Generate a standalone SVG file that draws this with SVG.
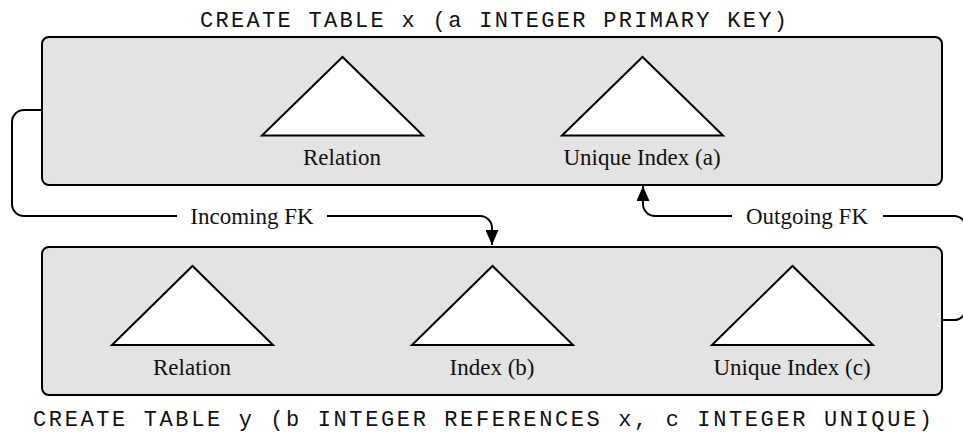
<svg xmlns="http://www.w3.org/2000/svg" width="963" height="433" viewBox="0 0 963 433">
  <style>
    .table { fill: #e3e3e3; stroke: #000; stroke-width: 2; }
    .tree { fill: #fff; stroke: #000; stroke-width: 2; stroke-linejoin: miter; }
    .label { font-family: "Liberation Serif", "Times New Roman", serif; font-size: 23px; fill: #111; text-anchor: middle; }
    .sql { font-family: "Liberation Mono", "Courier New", monospace; font-size: 22px; fill: #111; }
    .wire { fill: none; stroke: #000; stroke-width: 2; }
  </style>
  <defs>
    <marker id="arrow" viewBox="0 0 15 13" refX="15" refY="6.5" markerWidth="15" markerHeight="13" markerUnits="userSpaceOnUse" orient="auto">
      <path d="M0,0 L15,6.5 L0,13 z" fill="#000"/>
    </marker>
  </defs>

  <!-- table x -->
  <g id="table-x">
    <text class="sql" x="200" y="27" textLength="587" lengthAdjust="spacing">CREATE TABLE x (a INTEGER PRIMARY KEY)</text>
    <rect class="table" x="42" y="37" width="900" height="148" rx="7" ry="7"/>
  </g>
  <g id="x-relation">
    <polygon class="tree" points="262,135.5 342.5,57 423,135.5"/>
    <text class="label" x="342" y="165">Relation</text>
  </g>
  <g id="x-unique-index-a">
    <polygon class="tree" points="562,135.5 642.5,57 723,135.5"/>
    <text class="label" x="642" y="165">Unique Index (a)</text>
  </g>

  <!-- table y -->
  <g id="table-y">
    <rect class="table" x="42" y="247" width="900" height="148" rx="7" ry="7"/>
    <text class="sql" x="33" y="426" textLength="899" lengthAdjust="spacing">CREATE TABLE y (b INTEGER REFERENCES x, c INTEGER UNIQUE)</text>
  </g>
  <g id="y-relation">
    <polygon class="tree" points="112,345 192.5,266 273,345"/>
    <text class="label" x="192" y="375">Relation</text>
  </g>
  <g id="y-index-b">
    <polygon class="tree" points="412,345 492.5,266 573,345"/>
    <text class="label" x="492" y="375">Index (b)</text>
  </g>
  <g id="y-unique-index-c">
    <polygon class="tree" points="712,345 792.5,266 873,345"/>
    <text class="label" x="792" y="375">Unique Index (c)</text>
  </g>

  <!-- foreign key connectors -->
  <g id="connectors">
    <path class="wire" d="M42,110 H24 A12,12 0 0 0 12,122 V204 A12,12 0 0 0 24,216 H177"/>
    <path class="wire" d="M327,216 H480 A12,12 0 0 1 492,228 V245" marker-end="url(#arrow)"/>
    <text class="label" x="252" y="223.5">Incoming FK</text>

    <path class="wire" d="M942,320 H954 A12,12 0 0 0 966,308 V228 A12,12 0 0 0 954,216 H883"/>
    <path class="wire" d="M732,216 H655 A12,12 0 0 1 643,204 V186" marker-end="url(#arrow)"/>
    <text class="label" x="807" y="223.5">Outgoing FK</text>
  </g>
</svg>
